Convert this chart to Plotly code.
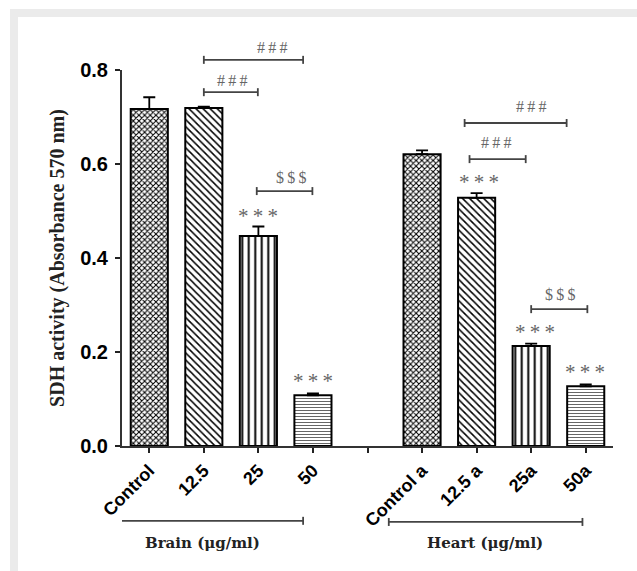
import plotly.graph_objects as go

# ---- data ----
categories = ["Control", "12.5", "25", "50", "", "Control a", "12.5 a", "25a", "50a"]
sdh_values = [0.717, 0.719, 0.447, 0.108, None, 0.621, 0.528, 0.213, 0.127]
sdh_errors = [0.025, 0.003, 0.020, 0.004, 0, 0.008, 0.010, 0.005, 0.004]
y_ticks = [0.0, 0.2, 0.4, 0.6, 0.8]
group_labels = ["Brain (\u03bcg/ml)", "Heart (\u03bcg/ml)"]

# significance brackets: (x_start, x_end, y_line (paper), label, label_x, label_y)
brackets = [
    (1.0, 2.82, 1.027, "#\u2009#\u2009#", 2.25, 1.059),
    (1.0, 1.99, 0.941, "#\u2009#\u2009#", 1.52, 0.973),
    (1.97, 2.99, 0.678, "&#36;\u2009&#36;\u2009&#36;", 2.6, 0.715),
    (5.78, 7.65, 0.859, "#\u2009#\u2009#", 7.0, 0.904),
    (5.87, 6.90, 0.763, "#\u2009#\u2009#", 6.35, 0.806),
    (7.0, 8.03, 0.364, "&#36;\u2009&#36;\u2009&#36;", 7.52, 0.402),
]
# stars: (x, y paper)
stars = [(2.0, 0.612), (3.0, 0.173), (6.04, 0.702), (7.07, 0.303), (7.98, 0.197)]
# group brackets below axis: (x_start, x_end, y paper, label_x, label_y)
groups = [(-0.74, 2.82, -0.199, 0.97, -0.258), (4.39, 7.94, -0.202, 6.16, -0.258)]

shapes_ = ["x", "\\", "|", "-", "", "x", "\\", "|", "-"]
fgcols = ["black", "black", "black", "#666", "black", "black", "black", "black", "#666"]
psizes = [4, 5, 6.5, 3, 5, 4, 5, 6.5, 3]
psolid = [0.45, 0.3, 0.3, 0.35, 0.3, 0.45, 0.3, 0.3, 0.35]

W, H = 637, 571
L, R, T, B = 122, 24, 70, 125
YMAX = 0.8

fig = go.Figure()
fig.add_trace(go.Bar(
    x=list(range(len(categories))), y=sdh_values, width=0.68,
    marker=dict(color="white", line=dict(color="black", width=2),
                pattern=dict(shape=shapes_, fgcolor=fgcols, bgcolor="white",
                             size=psizes, solidity=psolid, fillmode="replace")),
    error_y=dict(type="data", array=sdh_errors, arrayminus=[0] * len(sdh_errors),
                 symmetric=False, color="black", thickness=1.8, width=6),
    showlegend=False, hoverinfo="skip",
))

def px2paperx(px):
    return (px - L) / (W - L - R)

def px2papery(py):
    return (H - B - py) / (H - T - B)

shapes = []
annotations = []
# gray frame (L-shape)
shapes.append(dict(type="rect", xref="paper", yref="paper", layer="below",
                   x0=px2paperx(10), x1=px2paperx(18), y0=px2papery(571), y1=px2papery(9),
                   fillcolor="#ebebeb", line=dict(width=0)))
shapes.append(dict(type="rect", xref="paper", yref="paper", layer="below",
                   x0=px2paperx(10), x1=px2paperx(637), y0=px2papery(17), y1=px2papery(9),
                   fillcolor="#ebebeb", line=dict(width=0)))

cap = 4 / (H - T - B)
for x0, x1, yl, lab, lx, ly in brackets:
    shapes.append(dict(type="line", xref="x", yref="paper", x0=x0, x1=x1, y0=yl, y1=yl,
                       line=dict(color="#444", width=1.8)))
    for xx in (x0, x1):
        shapes.append(dict(type="line", xref="x", yref="paper", x0=xx, x1=xx,
                           y0=yl - cap, y1=yl + cap, line=dict(color="#444", width=1.8)))
    annotations.append(dict(xref="x", yref="paper", x=lx, y=ly, text=lab, showarrow=False,
                            xanchor="center", yanchor="middle",
                            font=dict(family="Liberation Serif", size=16, color="#666")))
for sx, sy in stars:
    annotations.append(dict(xref="x", yref="paper", x=sx, y=sy, text="*\u2009*\u2009*",
                            showarrow=False, xanchor="center", yanchor="middle",
                            font=dict(family="Liberation Serif", size=21, color="#666")))
for (x0, x1, yl, lx, ly), lab in zip(groups, group_labels):
    shapes.append(dict(type="line", xref="x", yref="paper", x0=x0, x1=x1, y0=yl, y1=yl,
                       line=dict(color="#444", width=1.8)))
    for xx in (x0, x1):
        shapes.append(dict(type="line", xref="x", yref="paper", x0=xx, x1=xx,
                           y0=yl - cap, y1=yl + cap, line=dict(color="#444", width=1.8)))
    annotations.append(dict(xref="x", yref="paper", x=lx, y=ly, text="<b>" + lab + "</b>",
                            showarrow=False, xanchor="center", yanchor="middle",
                            font=dict(family="DejaVu Serif", size=15, color="#222")))

fig.update_layout(
    width=W, height=H, margin=dict(l=L, r=R, t=T, b=B, pad=0),
    paper_bgcolor="white", plot_bgcolor="white",
    shapes=shapes, annotations=annotations,
    xaxis=dict(range=[-0.5, 8.5], tickmode="array", tickvals=list(range(len(categories))),
               ticktext=["<b>" + c + "</b>" for c in categories], tickangle=-45,
               tickfont=dict(family="Liberation Sans", size=18, color="black"),
               ticks="outside", ticklen=5, tickwidth=2, tickcolor="#222",
               showline=True, linecolor="#333", linewidth=2, showgrid=False, zeroline=False),
    yaxis=dict(range=[0, YMAX], tickmode="array", tickvals=y_ticks,
               ticktext=["<b>%.1f</b>" % v for v in y_ticks],
               tickfont=dict(family="Liberation Sans", size=20, color="black"),
               ticks="outside", ticklen=5, tickwidth=2, tickcolor="#222",
               ticklabelstandoff=3,
               showline=True, linecolor="#333", linewidth=2, showgrid=False, zeroline=False,
               title=dict(text="<b>SDH activity (Absorbance 570 nm)</b>", standoff=10,
                          font=dict(family="Liberation Serif", size=20, color="#222"))),
)

fig.write_html("out.html")
